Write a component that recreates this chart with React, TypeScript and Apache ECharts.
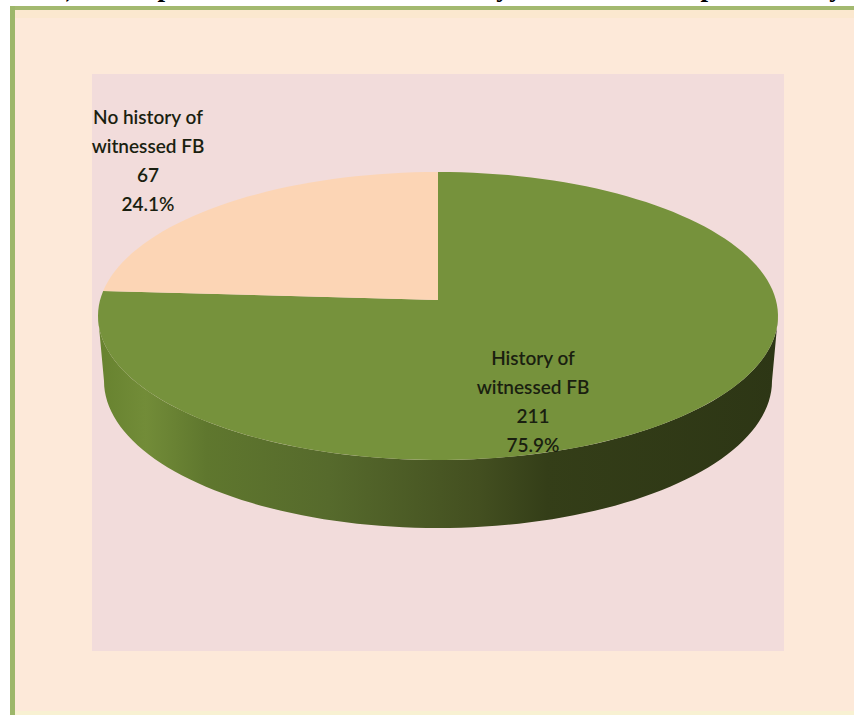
import React, { useEffect, useRef } from "react";
import * as echarts from "echarts";

// Witnessed foreign-body history, drawn as a tilted pie with a side wall.
const categories = ["History of\nwitnessed FB", "No history of\nwitnessed FB"];
const counts = [211, 67];
const sliceColors = ["#76923c", "#fcd5b5"];
const headingFragments = [")", "p", "y", "p", "y"];

const total = counts.reduce((a, b) => a + b, 0);

// Geometry of the tilted disc, in page pixels.
const CX = 438;
const TOP_CY = 316;
const TOP_RX = 340;
const TOP_RY = 144;
const APEX_Y = 300;
const BASE_CY = 381;
const BASE_RX = 334;
const BASE_RY = 147;
// Perspective squeezes the far slice's rim sweep.
const FAR_SWEEP = 0.922;
const LABEL_AT: number[][] = [[533, 343], [148, 102]];
const LINE_H = 29;

const rim = (deg: number, cy = TOP_CY, rx = TOP_RX, ry = TOP_RY) => {
  const t = (deg * Math.PI) / 180;
  return [CX + rx * Math.sin(t), cy - ry * Math.cos(t)];
};

const arcPoints = (from: number, to: number, cy?: number, rx?: number, ry?: number) => {
  const n = Math.max(2, Math.ceil(Math.abs(to - from) / 2));
  const pts: number[][] = [];
  for (let i = 0; i <= n; i++) pts.push(rim(from + ((to - from) * i) / n, cy, rx, ry));
  return pts;
};

export default function App() {
  const ref = useRef<HTMLDivElement>(null);

  useEffect(() => {
    document.body.style.margin = "0";
    const chart = echarts.init(ref.current!, null, { renderer: "svg" });

    const farSpan = (counts[1] / total) * 360 * FAR_SWEEP;
    const nearEnd = 360 - farSpan;

    const wallFill = new echarts.graphic.LinearGradient(
      98, 0, 778, 0,
      [
        { offset: 0, color: "#67822f" },
        { offset: 0.07, color: "#728c38" },
        { offset: 0.16, color: "#5f772e" },
        { offset: 0.34, color: "#566a2c" },
        { offset: 0.56, color: "#434f20" },
        { offset: 0.66, color: "#343e18" },
        { offset: 1, color: "#2d3615" },
      ],
      true
    );

    const renderSlice = (params: any, api: any) => {
      const i = params.dataIndex;
      const share = api.value(0) / total;
      const children: any[] = [];
      if (i === 0) {
        children.push({
          type: "polygon",
          shape: {
            points: [
              ...arcPoints(90, 270),
              ...arcPoints(270, 90, BASE_CY, BASE_RX, BASE_RY),
            ],
          },
          style: { fill: wallFill },
        });
      }
      const [from, to] = i === 0 ? [0, nearEnd] : [nearEnd, 360];
      children.push({
        type: "polygon",
        shape: { points: [[CX, APEX_Y], ...arcPoints(from, to)] },
        style: { fill: sliceColors[i] },
      });
      children.push({
        type: "text",
        x: LABEL_AT[i][0],
        y: LABEL_AT[i][1],
        style: {
          text: `${categories[i]}\n${api.value(0)}\n${(share * 100).toFixed(1)}%`,
          font: '600 19px Lato, "Open Sans", sans-serif',
          lineHeight: LINE_H,
          fill: "#1a1f10",
          align: "center",
          verticalAlign: "top",
        },
      });
      return { type: "group", children };
    };

    const rect = (x: number, y: number, width: number, height: number, fill: string) => ({
      type: "rect",
      shape: { x, y, width, height },
      style: { fill },
      silent: true,
    });

    chart.setOption({
      animation: false,
      backgroundColor: "#ffffff",
      graphic: [
        rect(15, 10, 839, 701, "#fde9d9"),
        rect(15, 10, 839, 8, "#fbe8cf"),
        rect(15, 711, 839, 4, "#f8f1d2"),
        rect(10, 6, 844, 4, "#a3b96f"),
        rect(10, 6, 5, 709, "#9db76a"),
        rect(92, 74, 692, 577, "#f2dcdb"),
        ...headingFragments.map((t, k) => ({
          type: "text",
          x: [70, 165, 503, 708, 836][k],
          y: 0,
          silent: true,
          style: {
            text: t,
            font: 'bold 27px "Liberation Serif", serif',
            fill: "#000000",
            align: "center",
            verticalAlign: "bottom",
          },
        })),
      ],
      series: [
        {
          type: "custom",
          coordinateSystem: "none",
          renderItem: renderSlice,
          data: counts.map((v, i) => ({ name: categories[i], value: [v] })),
          silent: true,
        },
      ],
    });

    return () => chart.dispose();
  }, []);

  return <div ref={ref} style={{ width: 854, height: 715 }} />;
}
